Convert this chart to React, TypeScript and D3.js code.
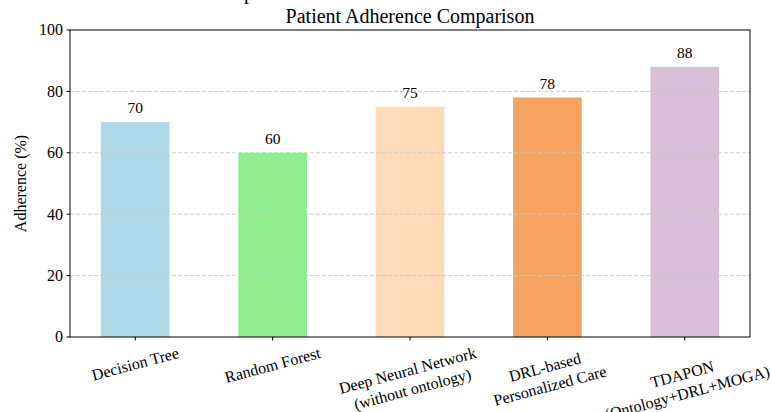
import React from "react";
import * as d3 from "d3";

const categories: string[][] = [
  ["Decision Tree"],
  ["Random Forest"],
  ["Deep Neural Network", "(without ontology)"],
  ["DRL-based", "Personalized Care"],
  ["TDAPON", "(Ontology+DRL+MOGA)"],
];
const adherence: number[] = [70, 60, 75, 78, 88];
const barColors: string[] = ["#ADD8E6", "#90EE90", "#FFDAB9", "#F4A460", "#D8BFD8"];
const yTicks: number[] = [0, 20, 40, 60, 80, 100];
const gridTicks: number[] = [20, 40, 60, 80];
const title = "Patient Adherence Comparison";
const yLabel = "Adherence (%)";

const W = 771;
const H = 412;
const M = { left: 70, right: 750, top: 30, bottom: 337 };
const FONT = "'Liberation Serif', 'Times New Roman', serif";

let _ctx: CanvasRenderingContext2D | null = null;
function measure(text: string, size: number): number {
  if (!_ctx) {
    const c = document.createElement("canvas");
    _ctx = c.getContext("2d");
  }
  if (!_ctx) return text.length * size * 0.45;
  _ctx.font = `${size}px 'Liberation Serif'`;
  return _ctx.measureText(text).width;
}

export default function App() {
  const x = d3
    .scaleBand<number>()
    .domain(d3.range(categories.length))
    .range([M.left, M.right])
    .paddingInner(0.5)
    .paddingOuter(0.225);
  const y = d3.scaleLinear().domain([0, 100]).range([M.bottom, M.top]);

  const tickFs = 16;
  const rot = 15;
  const rad = (rot * Math.PI) / 180;
  const lineH = tickFs * 1.2;
  const singleH = tickFs * 1.07;

  return (
    <svg
      width={W}
      height={H}
      viewBox={`0 0 ${W} ${H}`}
      style={{ position: "absolute", left: 0, top: 0, background: "#fff", fontFamily: FONT }}
    >
      <rect x={0} y={0} width={W} height={H} fill="#fff" />
      {/* clipped suptitle fragment */}
      <text x={244} y={-1} fontSize={20} fill="#000">
        p
      </text>
      <text x={(M.left + M.right) / 2} y={23} fontSize={20} textAnchor="middle" fill="#000">
        {title}
      </text>

      {/* bars */}
      {adherence.map((v, i) => (
        <rect
          key={"b" + i}
          x={x(i)!}
          y={y(v)}
          width={x.bandwidth()}
          height={y(0) - y(v)}
          fill={barColors[i]}
        />
      ))}

      {/* grid above bars */}
      {gridTicks.map((t) => (
        <line
          key={"g" + t}
          x1={M.left}
          x2={M.right}
          y1={y(t)}
          y2={y(t)}
          stroke="#c8c8c8"
          strokeWidth={0.9}
          strokeDasharray="4,2"
        />
      ))}

      {/* value labels */}
      {adherence.map((v, i) => (
        <text
          key={"v" + i}
          x={x(i)! + x.bandwidth() / 2}
          y={y(v) - 9}
          fontSize={15.5}
          textAnchor="middle"
          fill="#000"
        >
          {v}
        </text>
      ))}

      {/* frame */}
      <rect
        x={M.left}
        y={M.top}
        width={M.right - M.left}
        height={M.bottom - M.top}
        fill="none"
        stroke="#000"
        strokeWidth={1}
      />

      {/* y ticks */}
      {yTicks.map((t) => (
        <g key={"yt" + t}>
          <line x1={M.left - 3.5} x2={M.left} y1={y(t)} y2={y(t)} stroke="#000" strokeWidth={1} />
          <text x={M.left - 7} y={y(t) + 5.4} fontSize={tickFs} textAnchor="end" fill="#000">
            {t}
          </text>
        </g>
      ))}

      {/* x ticks */}
      {categories.map((lines, i) => {
        const cx = x(i)! + x.bandwidth() / 2;
        const bw = Math.max(...lines.map((l) => measure(l, tickFs)));
        const bh = (lines.length - 1) * lineH + singleH;
        const rh = bw * Math.sin(rad) + bh * Math.cos(rad);
        const cy = M.bottom + 7 + rh / 2;
        return (
          <g key={"xt" + i}>
            <line x1={cx} x2={cx} y1={M.bottom} y2={M.bottom + 3.5} stroke="#000" strokeWidth={1} />
            <g transform={`translate(${cx},${cy}) rotate(${-rot})`}>
              {lines.map((l, j) => (
                <text
                  key={j}
                  x={0}
                  y={(j - (lines.length - 1) / 2) * lineH + 0.34 * tickFs}
                  fontSize={tickFs}
                  textAnchor="middle"
                  fill="#000"
                >
                  {l}
                </text>
              ))}
            </g>
          </g>
        );
      })}

      {/* y label */}
      <text
        transform={`translate(26,${(M.top + M.bottom) / 2}) rotate(-90)`}
        fontSize={16}
        textAnchor="middle"
        fill="#000"
      >
        {yLabel}
      </text>
    </svg>
  );
}
